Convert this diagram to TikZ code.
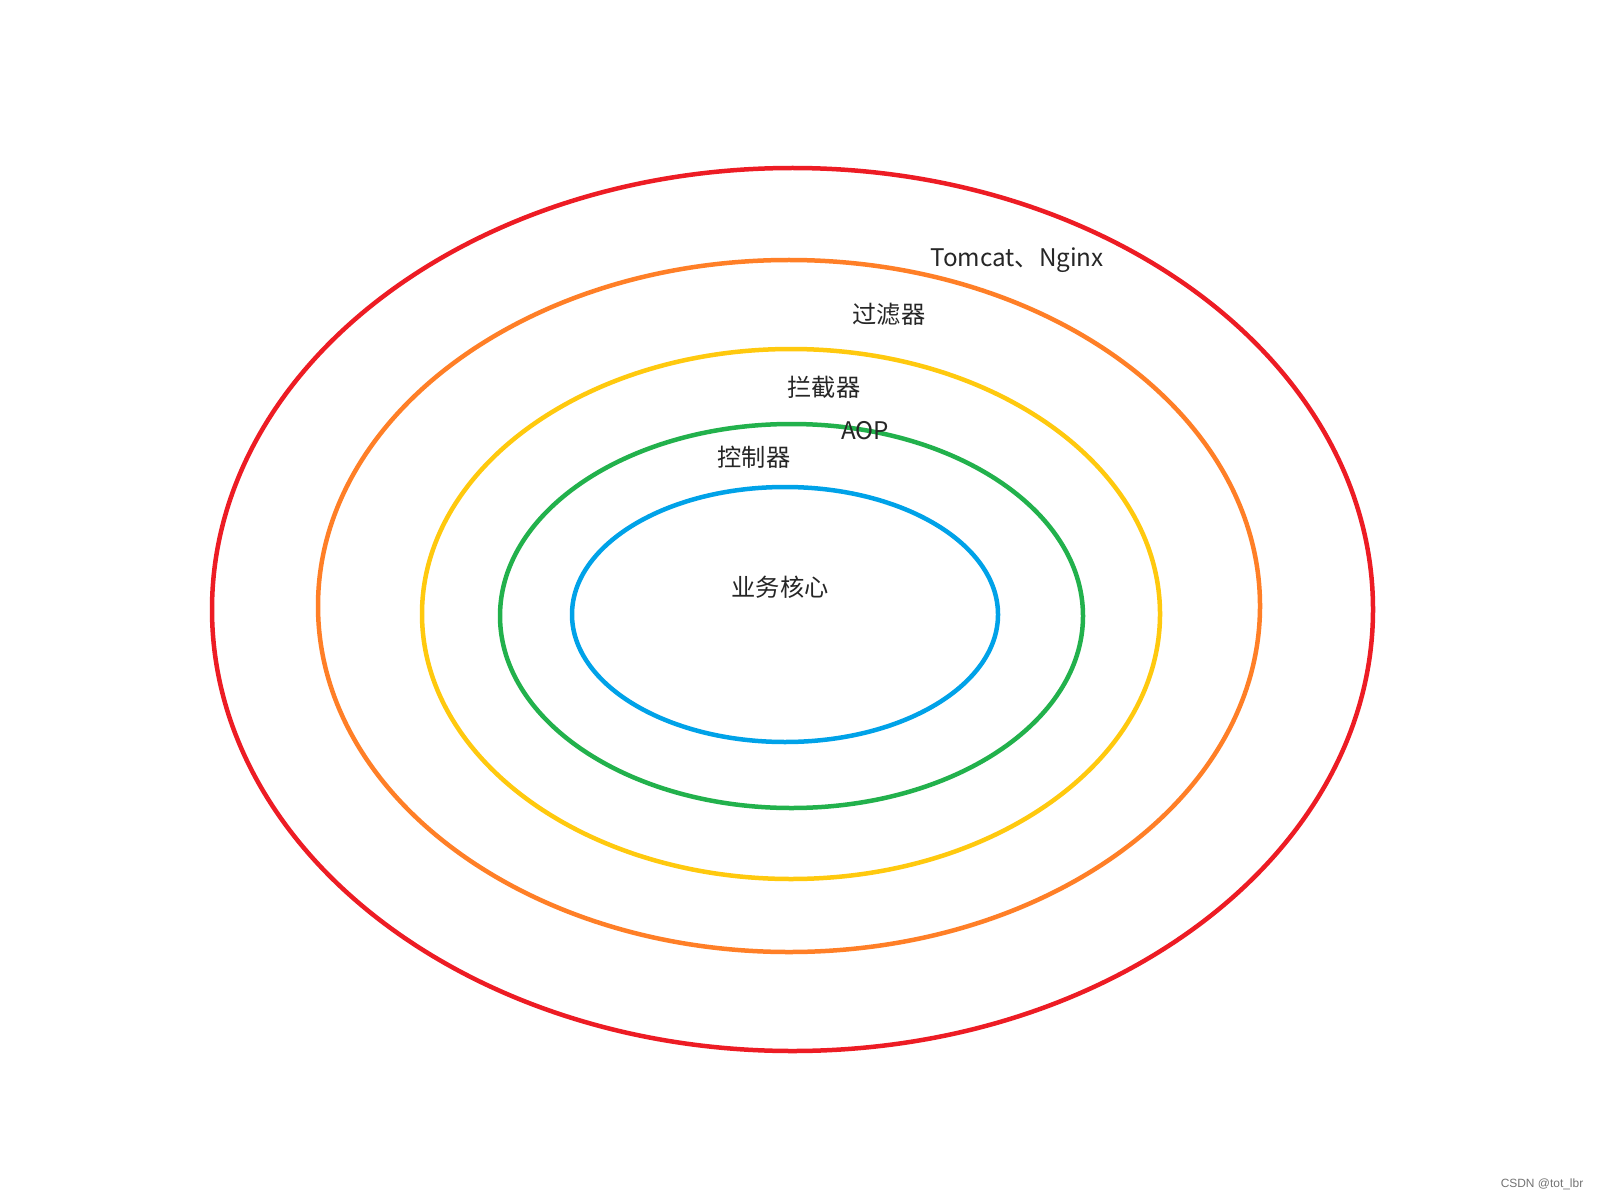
\documentclass[tikz,border=0pt]{standalone}
\usepackage{fontspec}
\newfontfamily\cjk{Noto Sans CJK SC}
\newfontfamily\wmark{Liberation Sans}
\definecolor{ringred}{HTML}{ED1C24}
\definecolor{ringorange}{HTML}{FF7F27}
\definecolor{ringyellow}{HTML}{FFC90E}
\definecolor{ringgreen}{HTML}{22B14C}
\definecolor{ringblue}{HTML}{00A2E8}
\tikzset{
  ring/.style={line width=0.045cm},
  layer/.style={font=\cjk\fontsize{6.9}{8}\selectfont, text=black!85, inner sep=0pt}
}
\begin{document}
\begin{tikzpicture}
\useasboundingbox [fill=white] (0,0) rectangle (16,12);
% ellipses
\draw [ring, ringred] (7.925,5.905) ellipse (5.805 and 4.415);
\draw [ring, ringorange] (7.89,5.94) ellipse (4.71 and 3.46);
\draw [ring, ringyellow] (7.91,5.86) ellipse (3.69 and 2.65);
\draw [ring, ringgreen] (7.915,5.84) ellipse (2.915 and 1.92);
\draw [ring, ringblue] (7.85,5.855) ellipse (2.13 and 1.275);
% labels
\node [layer] (tomcat) at (10.17,9.40) {Tomcat、Nginx};
\node [layer] (filter) at (8.89,8.86) {过滤器};
\node [layer] (interceptor) at (8.24,8.13) {拦截器};
\node [layer] (aop) at (8.65,7.69) {AOP};
\node [layer] (controller) at (7.54,7.43) {控制器};
\node [layer] (core) at (7.80,6.13) {业务核心};
% watermark
\node [font=\wmark\fontsize{3.4}{4}\selectfont, text=black!55, inner sep=0pt] (csdn) at (15.42,0.16) {CSDN @tot\_lbr};
\end{tikzpicture}
\end{document}
